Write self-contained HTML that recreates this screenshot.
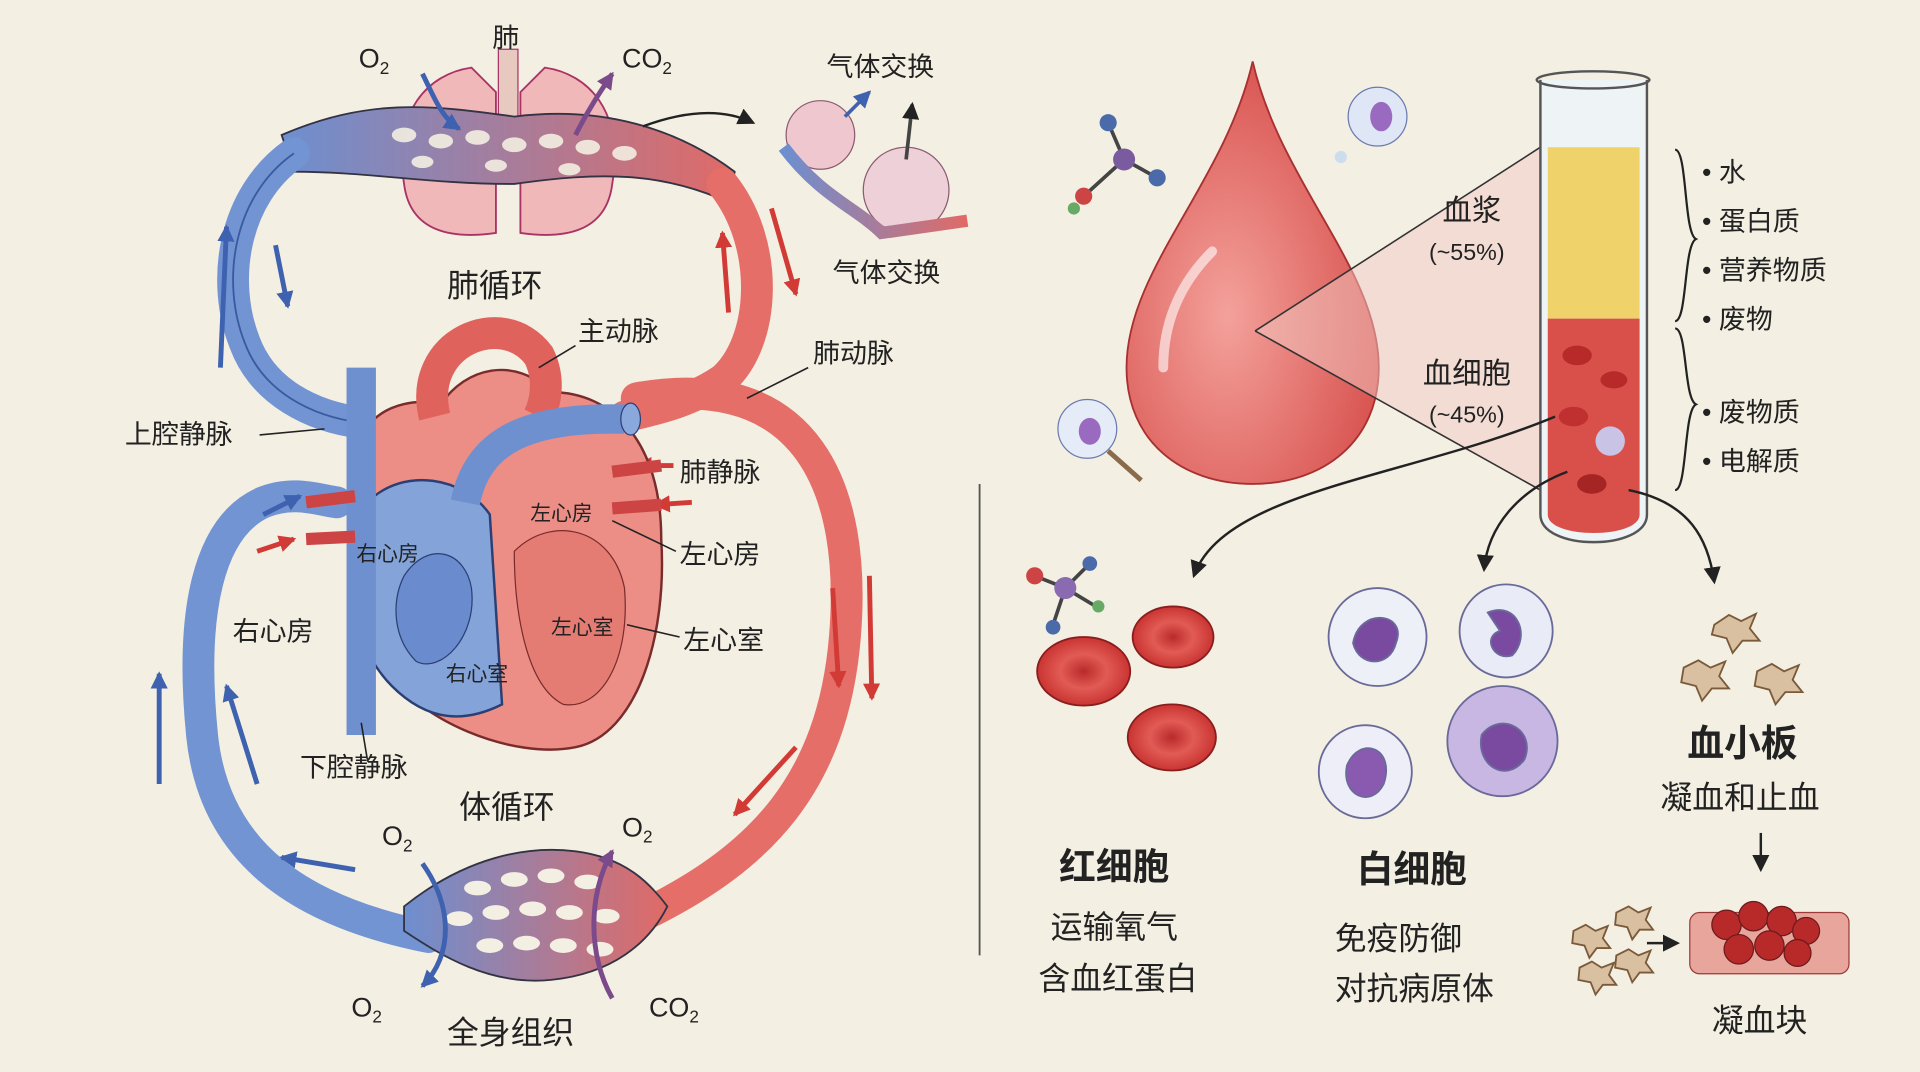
<!DOCTYPE html>
<html><head><meta charset="utf-8"><style>
html,body{margin:0;padding:0;background:#f3efe2;}
svg{display:block}
text{font-family:"Liberation Sans","Noto Sans CJK SC",sans-serif;fill:#222}
</style></head><body>
<svg width="1920" height="1072" viewBox="0 0 1568 875" xmlns="http://www.w3.org/2000/svg">
<defs>
<marker id="ah" markerUnits="userSpaceOnUse" markerWidth="14" markerHeight="14" refX="12" refY="7" orient="auto"><path d="M0,0 L14,7 L0,14 z" fill="#222"/></marker>
<marker id="ar" markerUnits="userSpaceOnUse" markerWidth="14" markerHeight="14" refX="12" refY="7" orient="auto"><path d="M0,0 L14,7 L0,14 z" fill="#d23a36"/></marker>
<marker id="ab" markerUnits="userSpaceOnUse" markerWidth="14" markerHeight="14" refX="12" refY="7" orient="auto"><path d="M0,0 L14,7 L0,14 z" fill="#3e62b0"/></marker>
<marker id="ap" markerUnits="userSpaceOnUse" markerWidth="14" markerHeight="14" refX="12" refY="7" orient="auto"><path d="M0,0 L14,7 L0,14 z" fill="#7a4a8a"/></marker>
<linearGradient id="br" x1="0" x2="1"><stop offset="0" stop-color="#6d8fd0"/><stop offset="1" stop-color="#e06a66"/></linearGradient>
<radialGradient id="drop" cx="0.4" cy="0.6" r="0.7"><stop offset="0" stop-color="#f4a19b"/><stop offset="1" stop-color="#d54a47"/></radialGradient>
<radialGradient id="rbc"><stop offset="0" stop-color="#b92a2a"/><stop offset="0.5" stop-color="#e25b55"/><stop offset="1" stop-color="#c93432"/></radialGradient>
</defs>
<rect width="1568" height="875" fill="#f3efe2"/>

<!-- lungs -->
<path d="M330,150 C320,90 350,60 385,55 L405,75 L405,190 C370,195 335,190 330,150z" fill="#f0b8b8" stroke="#a36" stroke-width="1.5"/>
<path d="M500,150 C510,90 480,60 445,55 L425,75 L425,190 C460,195 495,190 500,150z" fill="#f0b8b8" stroke="#a36" stroke-width="1.5"/>
<rect x="407" y="40" width="16" height="70" fill="#e8c9c0" stroke="#a36"/>
<path d="M230,110 C300,80 350,85 420,95 C500,85 560,110 600,140 L595,165 C540,140 490,140 420,150 C350,150 300,140 240,140z" fill="url(#br)" stroke="#334" stroke-width="1.5"/>
<g fill="#f3efe2" opacity="0.9">
<ellipse cx="330" cy="110" rx="10" ry="6"/><ellipse cx="360" cy="115" rx="10" ry="6"/><ellipse cx="390" cy="112" rx="10" ry="6"/><ellipse cx="420" cy="118" rx="10" ry="6"/><ellipse cx="450" cy="115" rx="10" ry="6"/><ellipse cx="480" cy="120" rx="10" ry="6"/><ellipse cx="510" cy="125" rx="10" ry="6"/><ellipse cx="345" cy="132" rx="9" ry="5"/><ellipse cx="405" cy="135" rx="9" ry="5"/><ellipse cx="465" cy="138" rx="9" ry="5"/>
</g>

<path d="M240,125 C190,160 180,230 200,280 C215,320 255,340 295,345" fill="none" stroke="#7394d2" stroke-width="26" stroke-linecap="round"/>
<path d="M240,125 C190,160 180,230 200,280 C215,320 255,340 295,345" fill="none" stroke="#3a5aa0" stroke-width="1.5"/>
<path d="M590,150 C630,200 625,280 590,310 C560,330 530,335 510,340" fill="none" stroke="#e56f68" stroke-width="26" stroke-linecap="round"/>
<path d="M520,325 C660,300 700,400 690,520 C680,640 620,700 530,745" fill="none" stroke="#e56f68" stroke-width="26" stroke-linecap="round"/>
<path d="M350,765 C250,745 175,700 165,600 C155,500 170,430 215,410 C240,400 260,408 275,410" fill="none" stroke="#7394d2" stroke-width="26" stroke-linecap="round"/>

<g stroke-width="4" fill="none">
<path d="M180,300 L185,185" stroke="#3e62b0" marker-end="url(#ab)"/>
<path d="M225,200 L235,250" stroke="#3e62b0" marker-end="url(#ab)"/>
<path d="M630,170 L650,240" stroke="#d23a36" marker-end="url(#ar)"/>
<path d="M595,255 L590,190" stroke="#d23a36" marker-end="url(#ar)"/>
<path d="M710,470 L712,570" stroke="#d23a36" marker-end="url(#ar)"/>
<path d="M680,480 L685,560" stroke="#d23a36" marker-end="url(#ar)"/>
<path d="M650,610 L600,665" stroke="#d23a36" marker-end="url(#ar)"/>
<path d="M130,640 L130,550" stroke="#3e62b0" marker-end="url(#ab)"/>
<path d="M210,640 L185,560" stroke="#3e62b0" marker-end="url(#ab)"/>
<path d="M290,710 L230,700" stroke="#3e62b0" marker-end="url(#ab)"/>
<path d="M215,420 L245,405" stroke="#3e62b0" marker-end="url(#ab)"/>
<path d="M550,380 L520,380" stroke="#d23a36" marker-end="url(#ar)"/>
<path d="M565,410 L535,412" stroke="#d23a36" marker-end="url(#ar)"/>
<path d="M210,450 L240,440" stroke="#d23a36" marker-end="url(#ar)"/>
</g>

<!-- heart -->
<path d="M300,410 C270,350 320,320 360,330 C380,300 420,290 450,320 C500,320 540,360 540,440 C545,520 520,600 470,610 C420,620 340,590 310,540 C290,500 290,450 300,410z" fill="#ec8e86" stroke="#7a2c2c" stroke-width="2"/>
<path d="M300,410 C275,440 280,520 320,560 C350,590 380,590 410,575 L400,420 C380,390 330,380 300,410z" fill="#84a3d8" stroke="#2b3f74" stroke-width="2"/>
<path d="M295,300 L295,600" stroke="#6f90cf" stroke-width="24"/>
<path d="M355,340 C340,280 410,250 440,290 C450,310 445,330 440,340" fill="none" stroke="#e0625c" stroke-width="26"/>
<path d="M380,410 C390,360 430,340 510,342" fill="none" stroke="#6f90cf" stroke-width="24"/>
<ellipse cx="515" cy="342" rx="8" ry="13" fill="#8aa8db" stroke="#2b3f74"/>
<path d="M420,450 C450,420 500,430 510,480 C515,540 490,580 460,575 C430,560 420,500 420,450z" fill="#e47c74" stroke="#7a2c2c"/>
<path d="M330,470 C350,440 380,450 385,480 C390,520 360,550 340,540 C320,520 320,490 330,470z" fill="#6a8bcd" stroke="#2b3f74"/>
<g stroke="#c44" stroke-width="10"><line x1="250" y1="410" x2="290" y2="405"/><line x1="250" y1="440" x2="290" y2="438"/><line x1="500" y1="385" x2="540" y2="380"/><line x1="500" y1="415" x2="540" y2="412"/></g>

<!-- bottom capillary -->
<path d="M330,740 C380,700 430,690 470,695 C510,700 530,720 545,740 C530,770 500,795 450,800 C400,805 360,780 330,760z" fill="url(#br)" stroke="#334" stroke-width="1.5"/>
<g fill="#f3efe2">
<ellipse cx="390" cy="725" rx="11" ry="6"/><ellipse cx="420" cy="718" rx="11" ry="6"/><ellipse cx="450" cy="715" rx="11" ry="6"/><ellipse cx="480" cy="720" rx="11" ry="6"/><ellipse cx="375" cy="750" rx="11" ry="6"/><ellipse cx="405" cy="745" rx="11" ry="6"/><ellipse cx="435" cy="742" rx="11" ry="6"/><ellipse cx="465" cy="745" rx="11" ry="6"/><ellipse cx="495" cy="748" rx="11" ry="6"/><ellipse cx="400" cy="772" rx="11" ry="6"/><ellipse cx="430" cy="770" rx="11" ry="6"/><ellipse cx="460" cy="772" rx="11" ry="6"/><ellipse cx="490" cy="775" rx="11" ry="6"/>
</g>
<path d="M345,705 C370,740 370,780 345,805" fill="none" stroke="#3e62b0" stroke-width="4" marker-end="url(#ab)"/>
<path d="M500,815 C480,780 480,730 500,695" fill="none" stroke="#7a4a8a" stroke-width="4" marker-end="url(#ap)"/>
<path d="M345,60 C355,80 360,95 375,105" fill="none" stroke="#3e62b0" stroke-width="4" marker-end="url(#ab)"/>
<path d="M470,110 C480,90 490,75 500,60" fill="none" stroke="#7a4a8a" stroke-width="4" marker-end="url(#ap)"/>

<!-- gas exchange inset -->
<path d="M525,103 C560,90 590,88 615,100" fill="none" stroke="#222" stroke-width="2" marker-end="url(#ah)"/>
<circle cx="670" cy="110" r="28" fill="#efc8cf" stroke="#8a5a70"/>
<circle cx="740" cy="155" r="35" fill="#eed0d8" stroke="#8a5a70"/>
<path d="M640,120 C670,160 700,170 720,190 L790,180" fill="none" stroke="url(#br)" stroke-width="10"/>
<path d="M690,95 L710,75" stroke="#3e62b0" stroke-width="3" marker-end="url(#ab)"/>
<path d="M740,130 L745,85" stroke="#444" stroke-width="3" marker-end="url(#ah)"/>

<g font-size="22">
<text x="402" y="38">肺</text>
<text x="293" y="55">O<tspan font-size="14" dy="5">2</tspan></text>
<text x="508" y="55">CO<tspan font-size="14" dy="5">2</tspan></text>
<text x="675" y="62">气体交换</text>
<text x="680" y="230">气体交换</text>
<text x="365" y="242" font-size="26">肺循环</text>
<text x="472" y="278">主动脉</text>
<text x="664" y="296">肺动脉</text>
<text x="102" y="362">上腔静脉</text>
<text x="555" y="393">肺静脉</text>
<text x="555" y="460">左心房</text>
<text x="558" y="530">左心室</text>
<text x="190" y="523">右心房</text>
<text x="245" y="634">下腔静脉</text>
<text x="375" y="668" font-size="26">体循环</text>
<text x="312" y="690">O<tspan font-size="14" dy="5">2</tspan></text>
<text x="508" y="683">O<tspan font-size="14" dy="5">2</tspan></text>
<text x="287" y="830">O<tspan font-size="14" dy="5">2</tspan></text>
<text x="530" y="830">CO<tspan font-size="14" dy="5">2</tspan></text>
<text x="365" y="852" font-size="26">全身组织</text>
</g>
<g font-size="17">
<text x="291" y="458">右心房</text>
<text x="433" y="425">左心房</text>
<text x="450" y="518">左心室</text>
<text x="364" y="556">右心室</text>
</g>
<g stroke="#222" stroke-width="1.3" fill="none">
<line x1="212" y1="355" x2="265" y2="350"/><line x1="470" y1="282" x2="440" y2="300"/><line x1="660" y1="300" x2="610" y2="325"/><line x1="552" y1="450" x2="500" y2="425"/><line x1="555" y1="520" x2="512" y2="510"/><line x1="300" y1="620" x2="295" y2="590"/>
</g>

<line x1="800" y1="395" x2="800" y2="780" stroke="#555" stroke-width="1.5"/>

<!-- blood drop -->
<path d="M1023,50 C1000,150 920,220 920,300 C920,360 965,395 1023,395 C1081,395 1126,360 1126,300 C1126,220 1046,150 1023,50z" fill="url(#drop)" stroke="#a83030" stroke-width="1.5"/>
<path d="M950,300 C950,250 975,220 990,205" fill="none" stroke="#fff" stroke-width="8" opacity="0.6" stroke-linecap="round"/>
<path d="M1025,270 L1258,120 L1258,400 z" fill="#f2c9c4" opacity="0.5"/>
<line x1="1025" y1="270" x2="1258" y2="120" stroke="#333" stroke-width="1.3"/>
<line x1="1025" y1="270" x2="1258" y2="400" stroke="#333" stroke-width="1.3"/>

<g stroke="#444" stroke-width="3"><line x1="918" y1="130" x2="905" y2="100"/><line x1="918" y1="130" x2="945" y2="145"/><line x1="918" y1="130" x2="885" y2="160"/></g>
<circle cx="918" cy="130" r="9" fill="#7a5ba0"/><circle cx="905" cy="100" r="7" fill="#4a6aaa"/><circle cx="945" cy="145" r="7" fill="#4a6aaa"/><circle cx="885" cy="160" r="7" fill="#c44"/><circle cx="877" cy="170" r="5" fill="#6a6"/>
<circle cx="1125" cy="95" r="24" fill="#dfe6f5" stroke="#6a7ab0"/><ellipse cx="1128" cy="95" rx="9" ry="12" fill="#9a6ac0"/>
<circle cx="1095" cy="128" r="5" fill="#cde"/>
<circle cx="888" cy="350" r="24" fill="#e6ecf7" stroke="#6a7ab0"/><ellipse cx="890" cy="352" rx="9" ry="11" fill="#9a6ac0"/><line x1="905" y1="368" x2="932" y2="392" stroke="#8a6a4a" stroke-width="4"/>

<!-- test tube -->
<path d="M1258,65 L1258,420 C1258,450 1345,450 1345,420 L1345,65" fill="#eef3f6" stroke="#555" stroke-width="2"/>
<ellipse cx="1301" cy="65" rx="46" ry="7" fill="none" stroke="#555" stroke-width="2"/>
<rect x="1264" y="120" width="75" height="140" fill="#efd36a"/>
<path d="M1264,260 L1339,260 L1339,420 C1339,440 1264,440 1264,420z" fill="#d9504a"/>
<ellipse cx="1288" cy="290" rx="12" ry="8" fill="#b82a2a"/><ellipse cx="1318" cy="310" rx="11" ry="7" fill="#b82a2a"/><ellipse cx="1285" cy="340" rx="12" ry="8" fill="#c03030"/><circle cx="1315" cy="360" r="12" fill="#c9c3e6"/><ellipse cx="1300" cy="395" rx="12" ry="8" fill="#a52525"/>
<path d="M1368,122 C1378,122 1375,190 1385,195 C1375,200 1378,262 1368,262" fill="none" stroke="#222" stroke-width="1.8"/>
<path d="M1368,268 C1378,268 1375,325 1385,330 C1375,335 1378,400 1368,400" fill="none" stroke="#222" stroke-width="1.8"/>
<g font-size="22">
<text x="1390" y="148">• 水</text><text x="1390" y="188">• 蛋白质</text><text x="1390" y="228">• 营养物质</text><text x="1390" y="268">• 废物</text>
<text x="1390" y="344">• 废物质</text><text x="1390" y="384">• 电解质</text>
<text x="1178" y="180" font-size="24">血浆</text><text x="1167" y="212" font-size="19">(~55%)</text>
<text x="1162" y="313" font-size="24">血细胞</text><text x="1167" y="345" font-size="19">(~45%)</text>
</g>

<g stroke="#222" stroke-width="2" fill="none">
<path d="M1270,340 C1150,390 1000,400 975,470" marker-end="url(#ah)"/>
<path d="M1280,385 C1240,400 1215,430 1212,465" marker-end="url(#ah)"/>
<path d="M1330,400 C1380,410 1395,440 1400,475" marker-end="url(#ah)"/>
<path d="M1438,680 L1438,710" marker-end="url(#ah)"/>
<path d="M1345,770 L1370,770" marker-end="url(#ah)"/>
</g>

<g stroke="#8a1e1e" stroke-width="1.5">
<ellipse cx="885" cy="548" rx="38" ry="28" fill="url(#rbc)"/>
<ellipse cx="958" cy="520" rx="33" ry="25" fill="url(#rbc)"/>
<ellipse cx="957" cy="602" rx="36" ry="27" fill="url(#rbc)"/>
</g>
<g stroke="#444" stroke-width="3"><line x1="870" y1="480" x2="845" y2="470"/><line x1="870" y1="480" x2="890" y2="460"/><line x1="870" y1="480" x2="860" y2="510"/><line x1="870" y1="480" x2="895" y2="495"/></g>
<circle cx="870" cy="480" r="9" fill="#8a6ab0"/><circle cx="845" cy="470" r="7" fill="#c44"/><circle cx="890" cy="460" r="6" fill="#4a6aaa"/><circle cx="860" cy="512" r="6" fill="#4a6aaa"/><circle cx="897" cy="495" r="5" fill="#6a6"/>

<g stroke="#6a6a9a" stroke-width="1.5">
<circle cx="1125" cy="520" r="40" fill="#eef0f8"/><path d="M1105,525 C1110,495 1150,500 1140,525 C1135,545 1110,545 1105,525z" fill="#7a4aa0"/>
<circle cx="1230" cy="515" r="38" fill="#e9ebf6"/><path d="M1215,500 C1240,490 1250,520 1235,535 C1220,540 1210,520 1225,515z" fill="#7a4aa0"/>
<circle cx="1115" cy="630" r="38" fill="#edeef7"/><path d="M1100,625 C1110,600 1140,610 1130,640 C1120,660 1095,650 1100,625z" fill="#8a5ab0"/>
<circle cx="1227" cy="605" r="45" fill="#c9b7e3"/><path d="M1210,600 C1225,580 1255,595 1245,620 C1230,640 1205,625 1210,600z" fill="#7a4aa0"/>
</g>
<g fill="#d9c0a0" stroke="#7a5a3a" stroke-width="1.5">
<path d="M1400,510 l12,-8 l10,5 l12,-6 l-5,12 l8,10 l-14,0 l-8,10 l-5,-12 l-12,-3z"/>
<path d="M1375,545 l12,-6 l10,6 l12,-5 l-5,12 l8,10 l-14,0 l-8,10 l-5,-12 l-12,-3z"/>
<path d="M1435,548 l12,-6 l10,6 l12,-5 l-5,12 l8,10 l-14,0 l-8,10 l-5,-12 l-12,-3z"/>
<path d="M1285,760 l10,-5 l8,5 l10,-4 l-4,10 l6,8 l-11,0 l-6,8 l-4,-10 l-10,-2z"/>
<path d="M1320,745 l10,-5 l8,5 l10,-4 l-4,10 l6,8 l-11,0 l-6,8 l-4,-10 l-10,-2z"/>
<path d="M1290,790 l10,-5 l8,5 l10,-4 l-4,10 l6,8 l-11,0 l-6,8 l-4,-10 l-10,-2z"/>
<path d="M1320,780 l10,-5 l8,5 l10,-4 l-4,10 l6,8 l-11,0 l-6,8 l-4,-10 l-10,-2z"/>
</g>
<rect x="1380" y="745" width="130" height="50" rx="8" fill="#e8a59c" stroke="#9a3a3a"/>
<g fill="#b82a2a" stroke="#6a1a1a">
<circle cx="1410" cy="755" r="12"/><circle cx="1432" cy="748" r="12"/><circle cx="1455" cy="752" r="12"/><circle cx="1475" cy="760" r="11"/><circle cx="1420" cy="775" r="12"/><circle cx="1445" cy="772" r="12"/><circle cx="1468" cy="778" r="11"/>
</g>

<g font-size="30" font-weight="bold">
<text x="865" y="718">红细胞</text>
<text x="1108" y="720">白细胞</text>
<text x="1378" y="617">血小板</text>
</g>
<g font-size="26">
<text x="858" y="766">运输氧气</text>
<text x="848" y="808">含血红蛋白</text>
<text x="1090" y="775">免疫防御</text>
<text x="1090" y="816">对抗病原体</text>
<text x="1356" y="660">凝血和止血</text>
<text x="1398" y="842">凝血块</text>
</g>
</svg>
</body></html>
